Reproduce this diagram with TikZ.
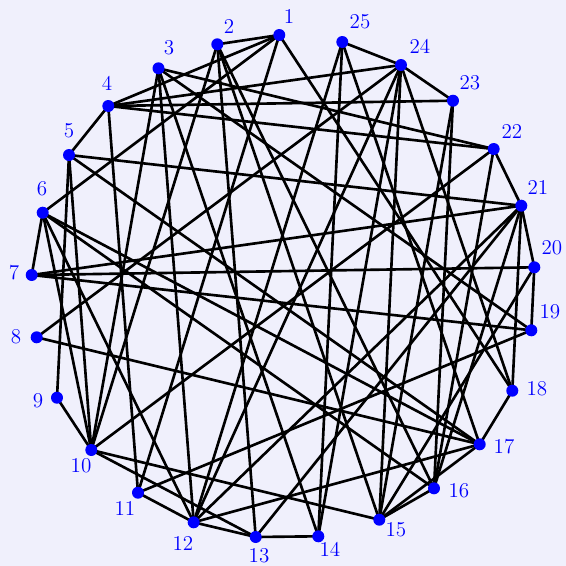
\documentclass[tikz,border=0pt]{standalone}
\begin{document}
\begin{tikzpicture}[x=0.02cm,y=-0.02cm,
  vtx/.style={circle,fill=blue,inner sep=0pt,minimum size=0.24cm},
  lbl/.style={text=blue,font=\large,inner sep=0pt},
  edge/.style={line width=1.5pt,black}]
\definecolor{bgc}{RGB}{240,240,252}
\fill[bgc] (0,0) rectangle (566,566);
\useasboundingbox (0,0) rectangle (566,566);
\foreach \n/\x/\y in {1/279.3/35, 2/217.3/44.3, 3/158.5/68.3, 4/108.3/106, 5/69/155, 6/42.7/212.7, 7/31.7/275, 8/36.7/337.3, 9/57/397.7, 10/91.3/450, 11/138/492.7, 12/193.7/522.3, 13/255.7/537, 14/318.3/536.3, 15/379.3/519.7, 16/434/488.3, 17/479.7/444.3, 18/512.3/390.7, 19/531.3/330.3, 20/534.3/267.3, 21/521.3/205.7, 22/493.7/149, 23/453/100.7, 24/401/65, 25/342.3/42}
  \coordinate (n\n) at (\x,\y);
\foreach \a/\b in {1/2,1/4,1/6,1/11,1/18,
  2/10,2/13,2/15,2/16,
  3/10,3/12,3/14,3/19,3/22,
  4/5,4/11,4/22,4/23,4/24,
  5/9,5/10,5/17,5/21,
  6/7,6/10,6/12,6/16,6/17,
  7/19,7/20,7/21,
  8/17,8/24,
  9/10,
  10/13,10/15,10/22,
  11/12,11/19,
  12/13,12/17,12/21,12/24,12/25,
  13/14,13/21,
  14/24,14/25,
  15/16,15/17,15/20,15/23,15/24,
  16/21,16/22,16/23,
  17/18,17/25,
  18/21,18/24,
  19/20,20/21,21/22,23/24,24/25}
  \draw[edge] (n\a) -- (n\b);
\foreach \n in {1,...,25} \node[vtx] (v\n) at (n\n) {};
\foreach \n/\x/\y in {1/289/16, 2/229/26, 3/169/48, 4/107/83, 5/69/131, 6/42/189, 7/14/273, 8/16/337, 9/38/401, 10/81/466, 11/125/508, 12/183/543, 13/259/556, 14/330/549, 15/396/530, 16/459/491, 17/504/447, 18/537/389, 19/550/312, 20/552/248, 21/538/187, 22/512/131, 23/470/83, 24/420/46, 25/360/22}
  \node[lbl] (l\n) at (\x,\y) {\n};
\end{tikzpicture}
\end{document}
